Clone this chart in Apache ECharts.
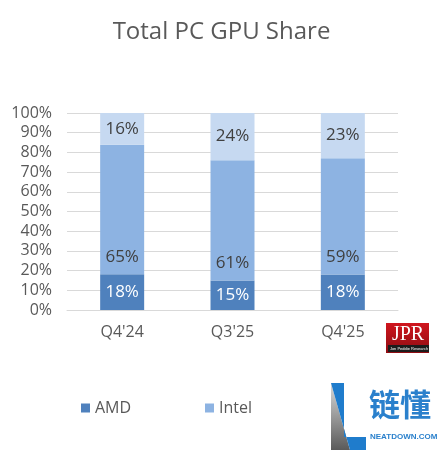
<!DOCTYPE html>
<html>
<head>
<meta charset="utf-8">
<style>
  html, body { margin: 0; padding: 0; background: #fff; }
  #chart { width: 443px; height: 453px; }
</style>
<script src="https://cdn.jsdelivr.net/npm/echarts@6/dist/echarts.min.js"></script>
</head>
<body>
<div id="chart"></div>
<script>
// data (percent shares shown on the bars)
const quarters = ["Q4'24", "Q3'25", "Q4'25"];
const amd = [18, 15, 18];
const intel = [65, 61, 59];
const nvidia = [16, 24, 23];
const names = ['AMD', 'Intel', 'Nvidia'];

// 100% stacked: scale each column to its total
const totals = quarters.map((q, i) => amd[i] + intel[i] + nvidia[i]);
const pct = arr => arr.map((v, i) => v / totals[i] * 100);

const font = 'Open Sans';
const grey = '#595959';

const chart = echarts.init(document.getElementById('chart'));

function seriesOf (name, raw, color, labelColor, pos, dist) {
  return {
    name: name,
    type: 'bar',
    stack: 'share',
    barWidth: 44,
    data: pct(raw),
    itemStyle: { color: color },
    label: {
      show: true,
      position: pos,
      distance: dist,
      fontFamily: font,
      fontSize: 17,
      color: labelColor,
      formatter: p => raw[p.dataIndex] + '%'
    },
    emphasis: { disabled: true }
  }
}

// one legend per item so the spacing matches the original
const legendLeft = [76, 200, 320];
const legends = names.map((n, i) => ({
  left: legendLeft[i],
  top: 395,
  z: 1,
  itemWidth: 9,
  itemHeight: 9,
  icon: 'rect',
  textStyle: { fontFamily: font, fontSize: 16, color: grey },
  data: [n]
}));

// logo pieces drawn above everything (the watermark hides the last legend item)
const logo = [
  // JPR badge
  { type: 'rect', shape: { x: 386, y: 323, width: 43, height: 30 },
    style: { fill: new echarts.graphic.LinearGradient(0, 0, 0, 1, [
      { offset: 0, color: '#d0161e' }, { offset: 1, color: '#8e0c12' }]) } },
  { type: 'rect', shape: { x: 388, y: 345, width: 41, height: 7 }, style: { fill: '#1c1c1c' } },
  { type: 'text', x: 408, y: 335, style: { text: 'JPR', fill: '#fff', fontFamily: 'Liberation Serif',
    fontSize: 20, align: 'center', verticalAlign: 'middle' } },
  { type: 'text', x: 409, y: 349, style: { text: 'Jon Peddie Research', fill: '#fff', fontFamily: 'Liberation Sans',
    fontSize: 4, align: 'center', verticalAlign: 'middle' } },
  // watermark
  { type: 'rect', shape: { x: 324, y: 376, width: 119, height: 77 }, style: { fill: '#fff' } },
  { type: 'polygon', shape: { points: [[331, 383], [350, 450], [331, 450]] },
    style: { fill: new echarts.graphic.LinearGradient(0, 0, 0, 1, [
      { offset: 0, color: '#d9d9d9' }, { offset: 1, color: '#5a5a5a' }]) } },
  { type: 'polygon', shape: { points: [[331, 383], [344, 383], [344, 437], [366, 437], [366, 450], [350, 450]] },
    style: { fill: '#1f7ccc' } },
  { type: 'text', x: 369, y: 404, style: { text: '链懂', fill: '#2a80cc', fontFamily: 'Noto Sans CJK SC',
    fontWeight: 'bold', fontSize: 31, verticalAlign: 'middle' } },
  { type: 'text', x: 370, y: 437, style: { text: 'NEATDOWN.COM', fill: '#2a80cc', fontFamily: 'Liberation Sans',
    fontWeight: 'bold', fontSize: 8, verticalAlign: 'middle' } }
].map(el => Object.assign({ z: 100, zlevel: 1 }, el));

chart.setOption({
  animation: false,
  title: {
    text: 'Total PC GPU Share',
    left: 'center',
    top: 15,
    textStyle: { fontFamily: font, fontSize: 24, fontWeight: 'normal', color: grey }
  },
  legend: legends,
  grid: { left: 67, right: 45, top: 113, bottom: 143 },
  xAxis: {
    type: 'category',
    data: quarters,
    axisTick: { show: false },
    axisLine: { lineStyle: { color: '#d9d9d9', width: 1 } },
    axisLabel: { fontFamily: font, fontSize: 16, color: grey, margin: 14 }
  },
  yAxis: {
    type: 'value',
    min: 0,
    max: 100,
    interval: 10,
    axisLabel: { fontFamily: font, fontSize: 16, color: grey, margin: 15, formatter: '{value}%' },
    splitLine: { lineStyle: { color: '#d9d9d9', width: 1 } }
  },
  series: [
    seriesOf('AMD', amd, '#4f81bd', '#ffffff', 'inside', 5),
    seriesOf('Intel', intel, '#8db3e2', '#404040', 'insideBottom', 9),
    seriesOf('Nvidia', nvidia, '#c6d9f1', '#404040', 'inside', 5)
  ],
  graphic: { zlevel: 1, z: 100, elements: logo }
});
</script>
</body>
</html>
